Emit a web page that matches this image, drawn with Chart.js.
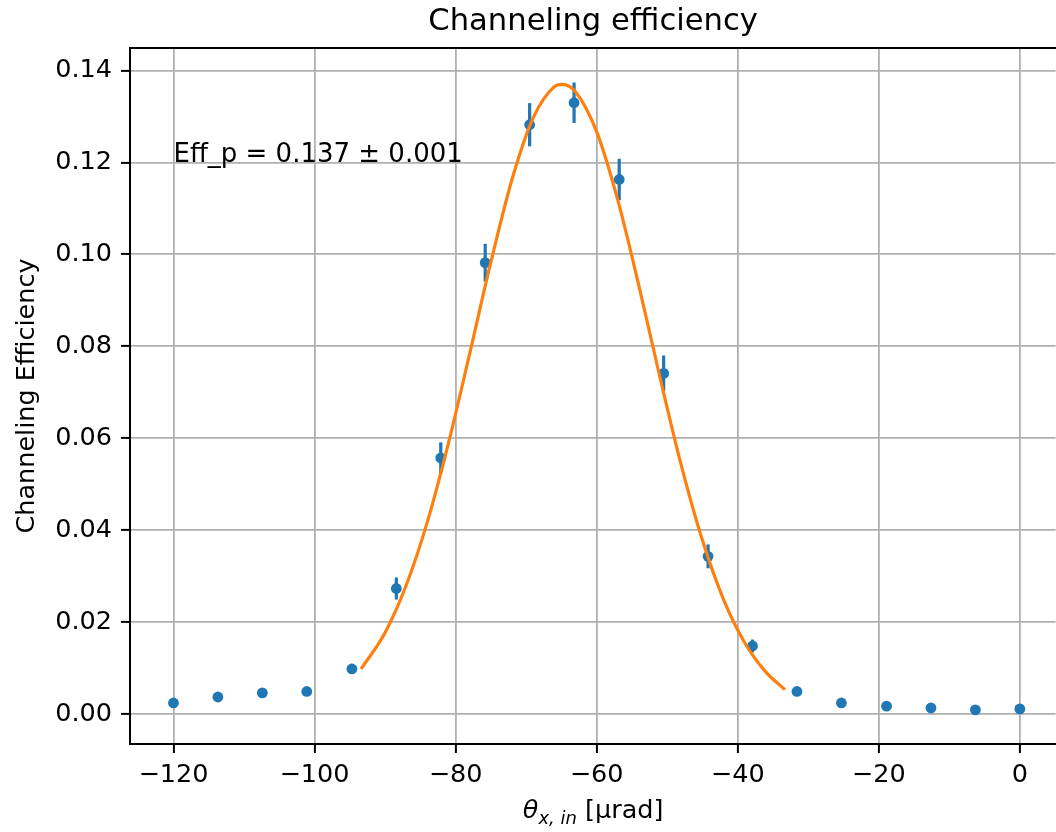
<!DOCTYPE html>
<html>
<head>
<meta charset="utf-8">
<script src="https://cdn.jsdelivr.net/npm/chart.js@4.4.1/dist/chart.umd.min.js"></script>
<style>
  html, body { margin: 0; padding: 0; background: #fff; overflow: hidden; }
  /* slightly wider than the window: the right spine falls just outside, as in the original crop */
  #wrap { width: 1061px; height: 832px; position: relative; }
</style>
</head>
<body>
<div id="wrap"><canvas id="chart"></canvas></div>
<script>
// measured points (angle in urad, efficiency, error)
const angles = [-120, -113.7, -107.4, -101.1, -94.7, -88.4, -82.1, -75.8, -69.5, -63.2,
                -56.8, -50.5, -44.2, -37.9, -31.6, -25.3, -18.9, -12.6, -6.3, 0];
const efficiency = [0.0024, 0.0037, 0.0046, 0.0049, 0.0098, 0.0273, 0.0557, 0.0982, 0.1282, 0.1330,
                    0.1163, 0.0741, 0.0343, 0.0148, 0.0049, 0.0024, 0.0017, 0.0013, 0.0009, 0.0011];
const efficiencyErr = [0.0004, 0.0005, 0.0007, 0.0007, 0.0011, 0.0024, 0.0034, 0.0041, 0.0047, 0.0044,
                       0.0045, 0.0039, 0.0026, 0.0014, 0.0007, 0.0004, 0.0003, 0.0003, 0.0002, 0.0003];

// fitted curve
const fitAngles = [-93.4, -90, -87, -84, -81, -78, -75, -72, -69, -66, -64.9, -63, -60,
                   -57, -54, -51, -48, -45, -42, -39, -36, -33.3];
const fitValues = [0.0098, 0.0177, 0.0280, 0.0418, 0.0590, 0.0784, 0.0983, 0.1163, 0.1297, 0.1365, 0.1370, 0.1354, 0.1267,
                   0.1118, 0.0931, 0.0731, 0.0541, 0.0378, 0.0249, 0.0155, 0.0091, 0.0053];

const xTicks = [-120, -100, -80, -60, -40, -20, 0];
const yTicks = [0, 0.02, 0.04, 0.06, 0.08, 0.10, 0.12, 0.14];

const titleText = 'Channeling efficiency';
const fitLabel = 'Eff_p = 0.137 \u00b1 0.001';
const fitLabelAt = { x: -120, y: 0.12 };

const BLUE = '#1f77b4';
const ORANGE = '#ff7f0e';
const FONT = 'DejaVu Sans';
const FS = 25.5;

// error bars, drawn under the markers
const errorBars = {
    id: 'errorBars',
    beforeDatasetsDraw(chart) {
        const { ctx, scales: { x, y } } = chart;
        ctx.save();
        ctx.strokeStyle = BLUE;
        ctx.lineWidth = 3.2;
        angles.forEach((a, i) => {
            const px = x.getPixelForValue(a);
            ctx.beginPath();
            ctx.moveTo(px, y.getPixelForValue(efficiency[i] - efficiencyErr[i]));
            ctx.lineTo(px, y.getPixelForValue(efficiency[i] + efficiencyErr[i]));
            ctx.stroke();
        });
        ctx.restore();
    }
};

// title over the axes, top spine, text label inside the plot, math-style x label
const extras = {
    id: 'extras',
    afterDraw(chart) {
        const { ctx, chartArea, scales: { x, y } } = chart;
        const mid = x.getPixelForValue(-60.5);
        ctx.save();
        ctx.strokeStyle = '#000';
        ctx.lineWidth = 2;
        ctx.beginPath();
        ctx.moveTo(chartArea.left - 1, chartArea.top);
        ctx.lineTo(chart.width, chartArea.top);
        ctx.stroke();

        ctx.fillStyle = '#000';
        ctx.textBaseline = 'alphabetic';
        ctx.textAlign = 'center';
        ctx.font = '30.6px "' + FONT + '"';
        ctx.fillText(titleText, mid, 30);

        ctx.textAlign = 'left';
        ctx.font = '26px "' + FONT + '"';
        ctx.fillText(fitLabel, x.getPixelForValue(fitLabelAt.x), y.getPixelForValue(fitLabelAt.y));

        // theta_{x, in} [urad]
        const parts = [
            { t: '\u03b8', f: 'italic ' + FS + 'px "' + FONT + '"', dy: 0 },
            { t: 'x, in', f: 'italic 18px "' + FONT + '"', dy: 6 },
            { t: ' [\u03bcrad]', f: FS + 'px "' + FONT + '"', dy: 0 }
        ];
        let total = 0;
        parts.forEach(p => { ctx.font = p.f; p.w = ctx.measureText(p.t).width; total += p.w; });
        let cx = mid - total / 2;
        const base = 818;
        parts.forEach(p => {
            ctx.font = p.f;
            ctx.fillText(p.t, cx, base + p.dy);
            cx += p.w;
        });
        ctx.restore();
    }
};

new Chart(document.getElementById('chart'), {
    type: 'scatter',
    data: {
        datasets: [
            {
                type: 'line',
                label: 'fit',
                data: fitAngles.map((a, i) => ({ x: a, y: fitValues[i] })),
                borderColor: ORANGE,
                borderWidth: 3.2,
                pointRadius: 0,
                fill: false,
                cubicInterpolationMode: 'monotone',
                order: 0
            },
            {
                label: 'data',
                data: angles.map((a, i) => ({ x: a, y: efficiency[i] })),
                backgroundColor: BLUE,
                borderColor: BLUE,
                borderWidth: 0,
                pointRadius: 5.4,
                order: 1
            }
        ]
    },
    options: {
        responsive: true,
        maintainAspectRatio: false,
        animation: false,
        layout: { padding: { top: 48, left: 0, right: 0, bottom: 0 } },
        plugins: {
            legend: { display: false },
            tooltip: { enabled: false },
            title: { display: false }
        },
        scales: {
            x: {
                type: 'linear',
                min: -126.16,
                max: 5.07,
                afterBuildTicks: s => { s.ticks = xTicks.map(v => ({ value: v })); },
                afterFit: s => { s.height = 88; s.paddingRight = 0; s.paddingLeft = 0; },
                ticks: {
                    color: '#000',
                    font: { family: FONT, size: FS },
                    padding: 7,
                    maxRotation: 0,
                    callback: v => (v < 0 ? '\u2212' + Math.abs(v) : String(v))
                },
                grid: { color: '#b0b0b0', lineWidth: 1.8, tickColor: '#000', tickLength: 9, tickWidth: 2 },
                border: { color: '#000', width: 2 }
            },
            y: {
                type: 'linear',
                min: -0.00653,
                max: 0.1449,
                afterBuildTicks: s => { s.ticks = yTicks.map(v => ({ value: v })); },
                afterFit: s => { s.width = 130; s.paddingTop = 0; s.paddingBottom = 0; },
                ticks: {
                    color: '#000',
                    font: { family: FONT, size: FS },
                    padding: 9,
                    callback: v => v.toFixed(2)
                },
                grid: { color: '#b0b0b0', lineWidth: 1.8, tickColor: '#000', tickLength: 9, tickWidth: 2 },
                border: { color: '#000', width: 2 },
                title: {
                    display: true,
                    text: 'Channeling Efficiency',
                    color: '#000',
                    font: { family: FONT, size: FS },
                    padding: { top: 12, bottom: 0 }
                }
            }
        }
    },
    plugins: [errorBars, extras]
});
</script>
</body>
</html>
